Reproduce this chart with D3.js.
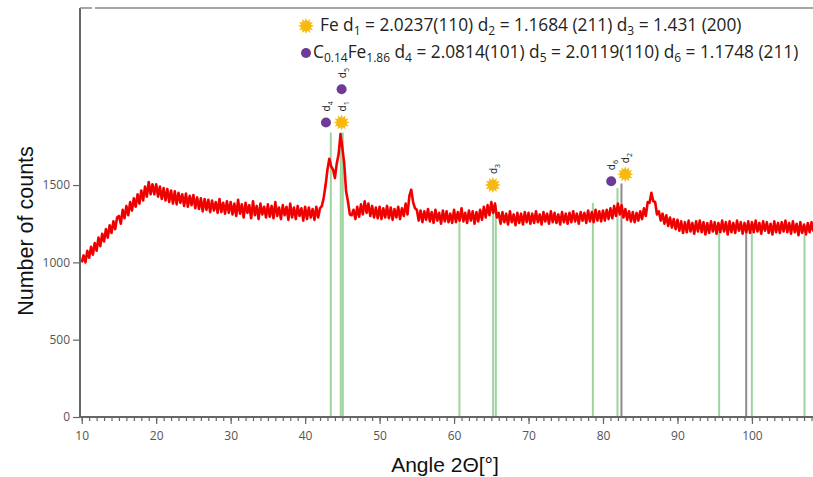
<!DOCTYPE html>
<html lang="en">
<head>
<meta charset="utf-8">
<title>XRD pattern</title>
<script src="https://d3js.org/d3.v7.min.js"></script>
<style>
  body { margin: 0; background: #fff; }
  svg { display: block; }
</style>
</head>
<body>
<script>
// measured pattern, 2theta from 10 deg in 0.25 deg steps
var startAngle = 10, stepAngle = 0.25;
var counts = [
  1000,1045,1000,1075,1030,1100,1050,1125,1075,1160,1105,1185,1135,1215,1160,1240,1190,1265,1215,1290,
  1300,1250,1340,1285,1365,1305,1390,1335,1415,1360,1440,1380,1465,1400,1490,1425,1520,1440,1505,1440,
  1505,1425,1490,1410,1480,1400,1475,1390,1465,1380,1460,1375,1450,1385,1440,1365,1445,1360,1430,1370,
  1435,1350,1420,1345,1415,1330,1410,1340,1405,1325,1400,1335,1390,1320,1410,1325,1385,1315,1395,1320,
  1390,1310,1380,1300,1405,1315,1375,1290,1385,1320,1370,1285,1395,1305,1365,1280,1380,1310,1360,1290,
  1375,1295,1365,1285,1390,1300,1355,1280,1370,1305,1360,1275,1380,1290,1355,1280,1365,1300,1350,1270,
  1360,1280,1355,1290,1345,1275,1360,1290,1350,1365,1420,1500,1600,1670,1620,1600,1545,1640,1700,1830,
  1740,1640,1460,1395,1310,1305,1340,1280,1360,1295,1375,1310,1395,1320,1380,1300,1365,1290,1355,1285,
  1360,1280,1350,1290,1365,1285,1355,1275,1345,1290,1360,1280,1350,1300,1380,1310,1430,1470,1390,1350,
  1340,1270,1335,1260,1330,1275,1345,1265,1325,1255,1340,1270,1320,1250,1335,1265,1330,1260,1315,1255,
  1340,1260,1325,1270,1350,1265,1320,1255,1335,1270,1330,1250,1325,1265,1340,1275,1360,1290,1370,1305,
  1390,1320,1380,1290,1320,1250,1325,1260,1315,1245,1330,1260,1310,1240,1320,1255,1315,1245,1325,1260,
  1320,1250,1315,1255,1330,1260,1310,1245,1325,1265,1315,1250,1330,1260,1320,1255,1310,1245,1325,1260,
  1315,1250,1320,1260,1330,1265,1315,1250,1325,1270,1320,1255,1335,1265,1325,1260,1340,1270,1330,1265,
  1335,1270,1340,1280,1350,1285,1365,1300,1380,1310,1370,1290,1345,1275,1330,1265,1325,1260,1320,1270,
  1330,1280,1350,1300,1390,1385,1450,1395,1390,1310,1330,1270,1315,1250,1305,1235,1290,1225,1280,1215,
  1275,1205,1265,1190,1260,1195,1270,1200,1255,1185,1265,1200,1270,1195,1260,1180,1255,1190,1265,1200,
  1260,1185,1255,1195,1270,1200,1260,1180,1265,1195,1255,1190,1270,1205,1260,1185,1255,1195,1265,1190,
  1260,1195,1270,1200,1255,1185,1265,1205,1260,1190,1250,1180,1265,1195,1255,1190,1260,1200,1270,1195,
  1255,1185,1265,1195,1250,1175,1260,1190,1245,1180,1255,1195,1260,1200
];

// reference pattern lines (angle, height in counts)
var refAngles  = [43.45, 44.79, 45.06, 60.72, 65.25, 65.61, 78.64, 81.94, 82.48, 95.60, 99.23, 99.99, 107.06];
var refHeights = [1840, 1840, 1840, 1280, 1370, 1370, 1385, 1480, 1510, 1200, 1200, 1200, 1180];
var refKind    = ["g","g","g","g","g","g","g","g","k","g","k","g","g"];

// peak markers
var markLabels = ["4", "1", "5", "3", "6", "2"];
var markPhase  = ["CFe", "Fe", "CFe", "Fe", "CFe", "Fe"];
var markAngles = [42.8, 44.9, 44.9, 65.2, 81.1, 83.0];
var markCounts = [1905, 1905, 2120, 1500, 1525, 1570];

var xTicks = [10, 20, 30, 40, 50, 60, 70, 80, 90, 100];
var yTicks = [0, 500, 1000, 1500];

var width = 813, height = 477;
var plotLeft = 80, plotRight = 813, plotTop = 8, plotBottom = 417;

var svg = d3.select("body").append("svg")
    .attr("width", width)
    .attr("height", height);

var x = d3.scaleLinear().domain([9.77, 108.2]).range([plotLeft, plotRight]);
var y = d3.scaleLinear().domain([0, 2645]).range([plotBottom, plotTop]);

var tickFont = "'Open Sans', 'Noto Sans', sans-serif";

// reference lines
svg.append("g").selectAll("line")
    .data(refAngles)
    .enter().append("line")
    .attr("x1", function(d) { return x(d); })
    .attr("x2", function(d) { return x(d); })
    .attr("y1", y(0))
    .attr("y2", function(d, i) { return y(refHeights[i]); })
    .attr("stroke", function(d, i) { return refKind[i] == "k" ? "#8c8c8c" : "#9fd49f"; })
    .attr("stroke-width", 2);

// pattern
var line = d3.line()
    .x(function(d, i) { return x(startAngle + i * stepAngle); })
    .y(function(d) { return y(d); });

svg.append("path")
    .datum(counts)
    .attr("d", line)
    .attr("fill", "none")
    .attr("stroke", "#ff0000")
    .attr("stroke-width", 2.6)
    .attr("stroke-linejoin", "round");

svg.append("path")
    .datum(counts)
    .attr("d", line)
    .attr("fill", "none")
    .attr("stroke", "#8a0000")
    .attr("stroke-width", 0.5)
    .attr("opacity", 0.45);

// axes
var xAxis = d3.axisBottom(x).tickValues(xTicks).tickSize(7).tickFormat(d3.format("d"));
var xMinor = d3.axisBottom(x).tickValues(d3.range(10, 109, 1)).tickSize(4).tickFormat("");
var yAxis = d3.axisLeft(y).tickValues(yTicks).tickSize(7).tickFormat(d3.format("d"));

var gxm = svg.append("g").attr("transform", "translate(0," + plotBottom + ")").call(xMinor);
var gx = svg.append("g").attr("transform", "translate(0," + plotBottom + ")").call(xAxis);
var gy = svg.append("g").attr("transform", "translate(" + plotLeft + ",0)").call(yAxis);

[gxm, gx, gy].forEach(function(g) {
  g.select(".domain").remove();
  g.selectAll(".tick line").attr("stroke", "#666").attr("stroke-width", 1.2);
  g.selectAll("text")
      .attr("fill", "#555")
      .style("font-family", tickFont)
      .style("font-size", "12px");
});
gx.selectAll("text").attr("dy", "1.1em");
gy.selectAll("text").attr("x", -10);

// frame
svg.append("line")
    .attr("x1", plotLeft).attr("x2", plotRight).attr("y1", plotBottom).attr("y2", plotBottom)
    .attr("stroke", "#666").attr("stroke-width", 2);
svg.append("line")
    .attr("x1", plotLeft).attr("x2", plotLeft).attr("y1", plotTop).attr("y2", plotBottom)
    .attr("stroke", "#666").attr("stroke-width", 2);
svg.append("line")
    .attr("x1", plotLeft).attr("x2", 92).attr("y1", plotTop).attr("y2", plotTop)
    .attr("stroke", "#888").attr("stroke-width", 1.5);
svg.append("line")
    .attr("x1", 95).attr("x2", plotRight).attr("y1", plotTop).attr("y2", plotTop)
    .attr("stroke", "#888").attr("stroke-width", 1.5);

// titles
svg.append("text")
    .attr("transform", "translate(33,231) rotate(-90)")
    .attr("text-anchor", "middle")
    .style("font-family", "'Liberation Sans', Arial, sans-serif")
    .style("font-size", "21.5px")
    .attr("fill", "#111")
    .text("Number of counts");

svg.append("text")
    .attr("x", 445)
    .attr("y", 472)
    .attr("text-anchor", "middle")
    .style("font-family", "'Liberation Sans', Arial, sans-serif")
    .style("font-size", "21px")
    .attr("fill", "#111")
    .text("Angle 2\u0398[\u00b0]");

// sunburst symbol
function burst(r) {
  var pts = d3.range(24).map(function(i) {
    return [i * Math.PI / 12, i % 2 ? r * 0.62 : r];
  });
  return d3.lineRadial().curve(d3.curveLinearClosed)(pts);
}

function marker(g, phase, cx, cy) {
  if (phase == "Fe") {
    g.append("path")
        .attr("transform", "translate(" + cx + "," + cy + ")")
        .attr("d", burst(8))
        .attr("fill", "#f7b90f");
  } else {
    g.append("circle")
        .attr("cx", cx).attr("cy", cy).attr("r", 5)
        .attr("fill", "#6d3a95");
  }
}

var marks = svg.append("g");
markAngles.forEach(function(a, i) {
  var cx = x(a), cy = y(markCounts[i]);
  marker(marks, markPhase[i], cx, cy);
  var t = marks.append("text")
      .attr("transform", "translate(" + (cx + 4) + "," + (cy - 11) + ") rotate(-90)")
      .style("font-family", tickFont)
      .style("font-size", "10px")
      .attr("fill", "#222");
  t.append("tspan").text("d");
  t.append("tspan").attr("dy", 3).style("font-size", "7px").text(markLabels[i]);
});

// legend
var legendFont = "'Open Sans', 'Noto Sans', sans-serif";
function legendRow(yy, phase, parts) {
  marker(svg, phase, 306, yy - 5);
  var t = svg.append("text")
      .attr("x", phase == "Fe" ? 320 : 313)
      .attr("y", yy)
      .style("font-family", legendFont)
      .style("font-size", "17.3px")
      .attr("fill", "#222");
  parts.forEach(function(p) {
    var s = t.append("tspan").text(p[0]);
    if (p[1] == "sub") s.attr("dy", 4).style("font-size", "12px");
    if (p[1] == "up") s.attr("dy", -4);
  });
}

legendRow(31, "Fe", [
  ["Fe d"], ["1", "sub"], [" = 2.0237(110) d", "up"], ["2", "sub"],
  [" = 1.1684 (211) d", "up"], ["3", "sub"], [" = 1.431 (200)", "up"]
]);
legendRow(58, "CFe", [
  ["C"], ["0.14", "sub"], ["Fe", "up"], ["1.86", "sub"], [" d", "up"], ["4", "sub"],
  [" = 2.0814(101) d", "up"], ["5", "sub"], [" = 2.0119(110) d", "up"], ["6", "sub"], [" = 1.1748 (211)", "up"]
]);
</script>
</body>
</html>
